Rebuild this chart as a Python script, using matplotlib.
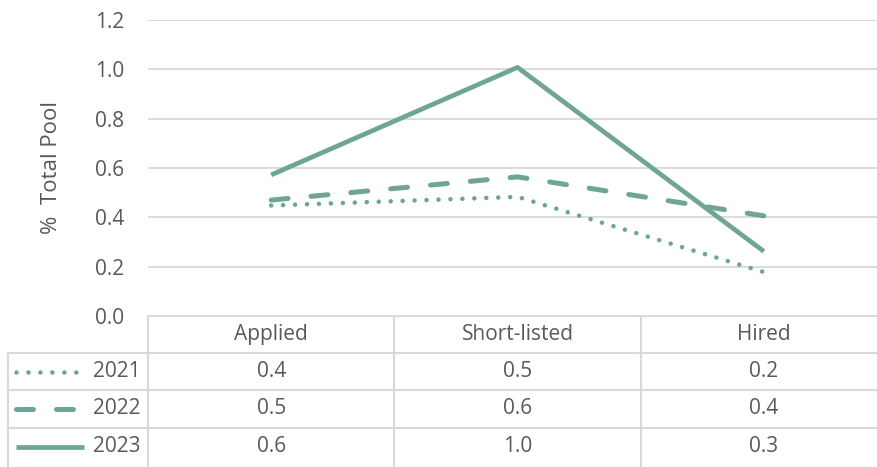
#recruitment funnel: share of total pool by stage, with Excel-style data table
import matplotlib.pyplot as plt

stages = ['Applied', 'Short-listed', 'Hired']
years = ['2021', '2022', '2023']
pool_2021 = [0.448, 0.483, 0.178]
pool_2022 = [0.470, 0.564, 0.406]
pool_2023 = [0.572, 1.008, 0.262]
yticks = [0.0, 0.2, 0.4, 0.6, 0.8, 1.0, 1.2]

GREEN = '#6fa596'
GRID = '#d9d9d9'
TXT = '#595959'
FS = 15
W, H = 878, 467

plt.rcParams['font.family'] = ['Open Sans', 'DejaVu Sans']
plt.rcParams['lines.scale_dashes'] = False

styles = {
    '2021': dict(lw=3.3, dashes=(0.01, 8.6), dash_capstyle='round'),
    '2022': dict(lw=3.6, dashes=(12.2, 16.6), dash_capstyle='round'),
    '2023': dict(lw=3.4, solid_capstyle='butt'),
}
series = {'2021': pool_2021, '2022': pool_2022, '2023': pool_2023}

fig = plt.figure(figsize=(W / 100, H / 100), dpi=100)

# pixel helpers
def fx(px):
    return px / W

def fy(py):
    return 1 - py / H

# plot area: x 148..887, y 20..316 (px)
left, right, top, bottom = 148, 887, 20, 316
ax = fig.add_axes([fx(left), fy(bottom), fx(right - left), fy(top) - fy(bottom)])
ax.set_xlim(-0.5, len(stages) - 0.5)
ax.set_ylim(0, 1.2)
ax.set_yticks(yticks)
ax.set_yticklabels(['%.1f' % v for v in yticks], color=TXT, fontsize=FS)
ax.tick_params(axis='y', length=0, pad=17)
ax.set_xticks([])
for s in ax.spines.values():
    s.set_visible(False)
ax.grid(axis='y', color=GRID, lw=1.3)
ax.set_axisbelow(True)
ax.set_ylabel('%  Total Pool', color=TXT, fontsize=16, labelpad=24)

xs = range(len(stages))
for y in years:
    ax.plot(xs, series[y], color=GREEN, clip_on=False, **styles[y])

# data table underneath
tb = fig.add_axes([0, 0, 1, 1], zorder=-1)
tb.set_xlim(0, W)
tb.set_ylim(H, 0)
tb.axis('off')

col_w = (right - left) / len(stages)
row_edges = [316, 353, 390, 428, 466]
lc = dict(color=GRID, lw=1.5)
tb.plot([left, W], [row_edges[0]] * 2, **lc)
for ry in row_edges[1:4]:
    tb.plot([8, W], [ry, ry], **lc)
tb.plot([8, 8], [row_edges[1], H], **lc)
for i in range(len(stages)):
    cx = left + i * col_w
    tb.plot([cx, cx], [row_edges[0], H], **lc)

for i, st in enumerate(stages):
    cx = left + (i + 0.5) * col_w
    tb.text(cx, (row_edges[0] + row_edges[1]) / 2, st, ha='center', va='center',
            color=TXT, fontsize=FS)
    for j, y in enumerate(years):
        cy = (row_edges[j + 1] + row_edges[j + 2]) / 2
        tb.text(cx, cy, '%.1f' % series[y][i], ha='center', va='center',
                color=TXT, fontsize=FS)

for j, y in enumerate(years):
    cy = (row_edges[j + 1] + row_edges[j + 2]) / 2
    x1 = 84 if y == '2023' else 80
    tb.plot([16, x1], [cy, cy], color=GREEN, **styles[y])
    tb.text(141, cy, y, ha='right', va='center', color=TXT, fontsize=FS)

fig.savefig('out.png', dpi=100)
